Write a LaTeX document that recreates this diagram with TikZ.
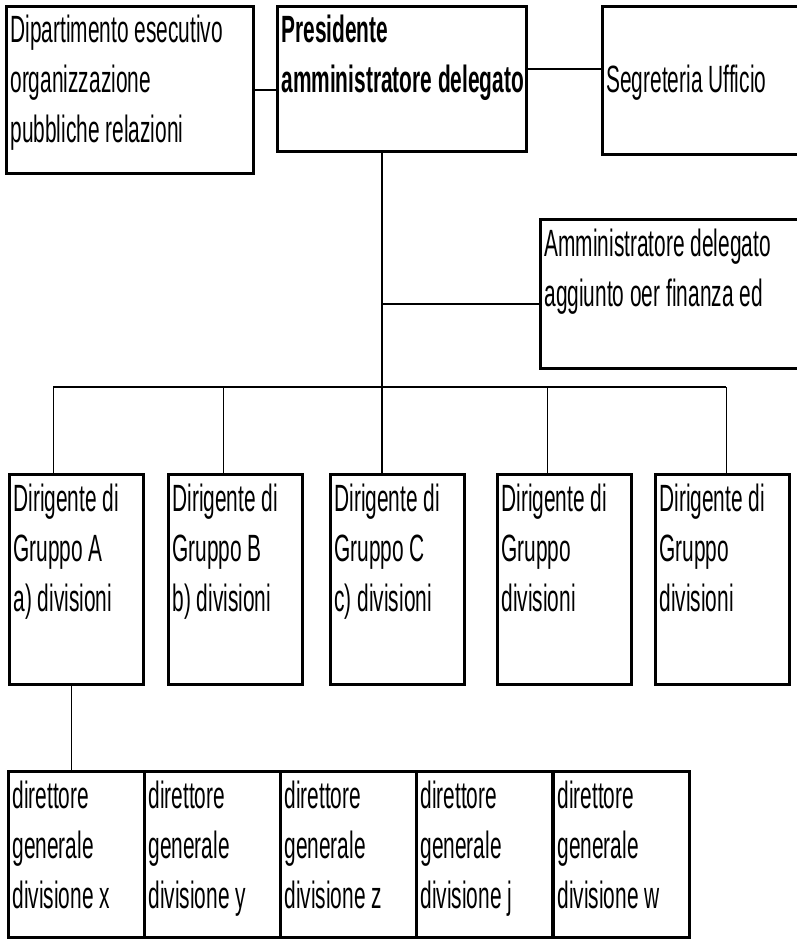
\documentclass[tikz,border=0pt]{standalone}
\usepackage{fontspec}
\setmainfont[FakeStretch=0.55]{Liberation Sans}
\usetikzlibrary{positioning}

% text block of a box: width, height, first baseline, lines
\newcommand\unittext[4]{\parbox[t][#2][t]{#1}{\raggedright\leftskip=4pt\rule{0pt}{#3}#4}}

\begin{document}
\begin{tikzpicture}[x=1pt,y=-1pt,
  unit/.style={draw,line width=2.8pt,inner sep=0pt,anchor=north west,
    font=\fontsize{38pt}{50pt}\selectfont},
  link/.style={line width=1.8pt}]
  \useasboundingbox (0,0) rectangle (797,939);
  % top row
  \node[unit] (dip) at (5,5) {\unittext{247pt}{167pt}{36pt}{Dipartimento esecutivo\\organizzazione\\pubbliche relazioni}};
  \node[unit] (pres) at (276,5) {\unittext{249pt}{145pt}{36pt}{\bfseries Presidente\\amministratore delegato}};
  \node[unit] (segr) at (601,5) {\unittext{240pt}{148pt}{86pt}{Segreteria Ufficio}};
  \node[unit] (amm) at (539,218) {\unittext{280pt}{149pt}{37pt}{Amministratore delegato\\aggiunto oer finanza ed}};
  % group heads
  \foreach \x/\name/\txt in {8/dirA/{Dirigente di\\Gruppo A\\a) divisioni},
      167/dirB/{Dirigente di\\Gruppo B\\b) divisioni},
      329/dirC/{Dirigente di\\Gruppo C\\c) divisioni},
      496/dirD/{Dirigente di\\Gruppo\\divisioni},
      654/dirE/{Dirigente di\\Gruppo\\divisioni}}
    \node[unit] (\name) at (\x,473) {\unittext{134pt}{210pt}{37pt}{\txt}};
  % division directors
  \foreach \x/\name/\txt in {7/dgx/x,143/dgy/y,279/dgz/z,415/dgj/j,552/dgw/w}
    \node[unit] (\name) at (\x,770) {\unittext{136pt}{166pt}{37pt}{direttore\\generale\\divisione \txt}};

  % connectors
  \draw[link] (dip.east) -- (dip.east -| pres.west);
  \draw[link] ([yshift=10pt]pres.east) coordinate (ps) -- (ps -| segr.west);
  \draw[link] ([xshift=-20pt]pres.south) coordinate (trunk) -- (trunk |- dirC.north);
  \draw[link] ([yshift=-10pt]amm.west) coordinate (aw) -- (aw -| trunk);
  \coordinate (bus) at (0,387);
  \path ([xshift=-23pt]dirA.north) coordinate (fa)
        ([xshift=-12pt]dirB.north) coordinate (fb)
        ([xshift=-17pt]dirD.north) coordinate (fd)
        ([xshift=4pt]dirE.north) coordinate (fe);
  \draw[link] (fa |- bus) -- (fe |- bus);
  \foreach \f in {fa,fb,fd,fe}
    \draw[link] (\f) -- (\f |- bus);
  \draw[link] ([xshift=-5pt]dirA.south) coordinate (fx) -- (fx |- dgx.north);
\end{tikzpicture}
\end{document}
